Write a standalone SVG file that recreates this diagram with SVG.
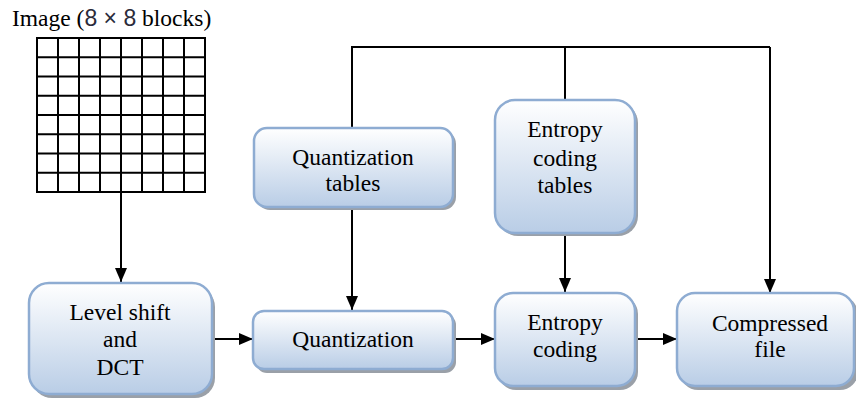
<svg xmlns="http://www.w3.org/2000/svg" width="856" height="398" viewBox="0 0 856 398">
<style>
.box{fill:url(#g);stroke:#8eacd2;stroke-width:2.5}
.sh{fill:#9aa0a8}
text{font-family:'Liberation Serif','Times New Roman',serif;font-size:23.5px;fill:#000}
.t{text-anchor:middle}
.ln{stroke:#000;stroke-width:2;fill:none}
.grid{stroke:#000;stroke-width:2;fill:none}
</style>
<defs>
<linearGradient id="g" x1="0" y1="0" x2="0" y2="1">
<stop offset="0" stop-color="#ffffff"/>
<stop offset="1" stop-color="#b9cde6"/>
</linearGradient>
<marker id="a" viewBox="0 0 14 12" refX="14" refY="6" markerWidth="14" markerHeight="12" markerUnits="userSpaceOnUse" orient="auto">
<path d="M0,0 L14,6 L0,12 Z" fill="#000"/>
</marker>
</defs>
<g id="image">
<text x="12" y="26">Image (<tspan style="font-family:'Liberation Sans',Arial,sans-serif;font-size:23px;fill:#2b2b3a">8 × 8</tspan> blocks)</text>
<g class="grid">
<rect x="37" y="38" width="168" height="154"/>
<path d="M58,38V192M79,38V192M100,38V192M121,38V192M142,38V192M163,38V192M184,38V192"/>
<path d="M37,57.25H205M37,76.5H205M37,95.75H205M37,115H205M37,134.25H205M37,153.5H205M37,172.75H205"/>
</g>
</g>
<g id="connectors">
<path class="ln" d="M121,192V282" marker-end="url(#a)"/>
<path class="ln" d="M352,128V47H770"/>
<path class="ln" d="M565,47V100"/>
<path class="ln" d="M770,47V293" marker-end="url(#a)"/>
<path class="ln" d="M352,207V310" marker-end="url(#a)"/>
<path class="ln" d="M565,233V292" marker-end="url(#a)"/>
<path class="ln" d="M212,339H253" marker-end="url(#a)"/>
<path class="ln" d="M453,339H495" marker-end="url(#a)"/>
<path class="ln" d="M635,339H677" marker-end="url(#a)"/>
</g>
<g id="level-shift">
<rect class="sh" x="32" y="287" width="183" height="111" rx="20"/>
<rect class="box" x="29" y="283" width="183" height="111" rx="20"/>
<text class="t" x="120" y="320">Level shift</text>
<text class="t" x="120" y="347">and</text>
<text class="t" x="120" y="375">DCT</text>
</g>
<g id="quant-tables">
<rect class="sh" x="257" y="131" width="199" height="79" rx="13"/>
<rect class="box" x="254" y="128" width="199" height="79" rx="13"/>
<text class="t" x="353" y="165">Quantization</text>
<text class="t" x="353" y="191">tables</text>
</g>
<g id="entropy-tables">
<rect class="sh" x="498" y="103" width="140" height="133" rx="20"/>
<rect class="box" x="495" y="100" width="140" height="133" rx="20"/>
<text class="t" x="565" y="137">Entropy</text>
<text class="t" x="565" y="166">coding</text>
<text class="t" x="565" y="193">tables</text>
</g>
<g id="quantization">
<rect class="sh" x="256" y="314" width="200" height="59" rx="11"/>
<rect class="box" x="253" y="311" width="200" height="58" rx="11"/>
<text class="t" x="353" y="347">Quantization</text>
</g>
<g id="entropy-coding">
<rect class="sh" x="498" y="296" width="140" height="94" rx="18"/>
<rect class="box" x="495" y="293" width="140" height="93" rx="18"/>
<text class="t" x="565" y="330">Entropy</text>
<text class="t" x="565" y="357">coding</text>
</g>
<g id="compressed">
<rect class="sh" x="680" y="296" width="178" height="94" rx="18"/>
<rect class="box" x="677" y="293" width="177" height="93" rx="18"/>
<text class="t" x="770" y="331">Compressed</text>
<text class="t" x="770" y="357">file</text>
</g>
</svg>
